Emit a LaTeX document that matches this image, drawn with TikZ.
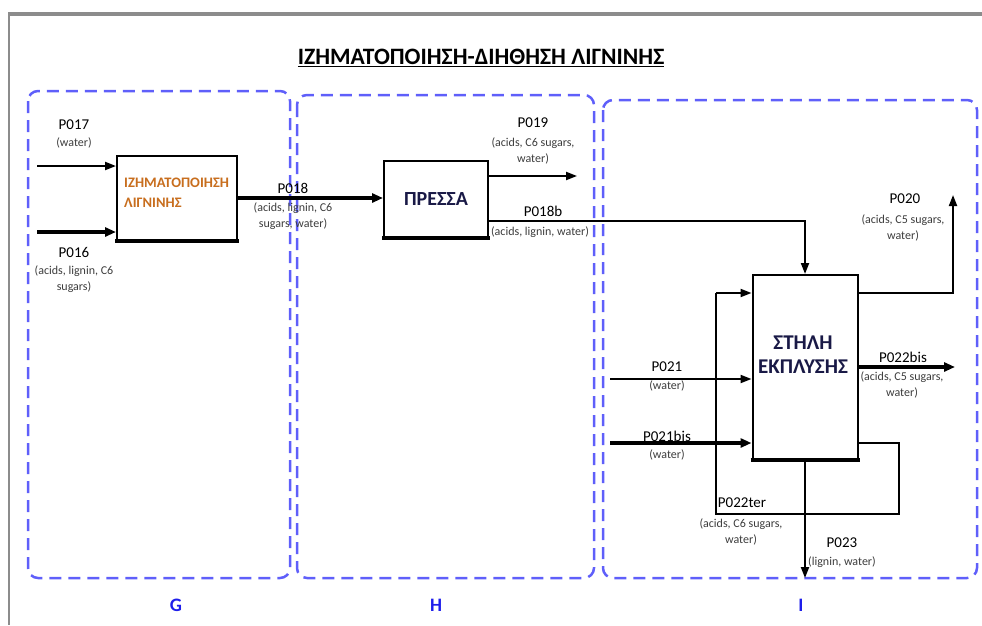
\documentclass[tikz,border=0pt]{standalone}
\usepackage{fontspec}
\setmainfont{Carlito}
\usetikzlibrary{arrows.meta,calc}
\definecolor{zoneblue}{RGB}{95,95,250}
\definecolor{lblblue}{RGB}{30,30,235}
\definecolor{boxorange}{RGB}{200,110,30}
\definecolor{boxnavy}{RGB}{25,25,70}
\definecolor{sublbl}{RGB}{60,60,60}
\definecolor{framegray}{RGB}{140,140,140}
\begin{document}
\begin{tikzpicture}[x=1pt,y=-1pt,
  zone/.style={draw=zoneblue,line width=2.5pt,rounded corners=10pt,dash pattern=on 12pt off 7pt},
  zonelbl/.style={text=lblblue,font=\fontsize{19}{19}\selectfont\bfseries},
  procbox/.style={draw,line width=2pt,fill=white,inner sep=0pt},
  flow/.style={line width=2pt,-{Triangle[length=11pt,width=8pt]}},
  thickflow/.style={line width=3.8pt,-{Triangle[length=11pt,width=9pt]}},
  pipe/.style={line width=2pt},
  pname/.style={font=\fontsize{15}{15}\selectfont,inner sep=0pt},
  psub/.style={font=\fontsize{12}{16}\selectfont,text=sublbl,inner sep=0pt}
]
\useasboundingbox (0,0) rectangle (982,625);
% frame
\draw[framegray,line width=4pt] (8,14) -- (982,14);
\draw[framegray,line width=1.5pt] (9,14) -- (9,625);
% title
\node[font=\fontsize{23.5}{24}\selectfont\bfseries,inner sep=0pt] (title) at (481,58) {\underline{ΙΖΗΜΑΤΟΠΟΙΗΣΗ-ΔΙΗΘΗΣΗ ΛΙΓΝΙΝΗΣ}};
% zones
\draw[zone] (28,91) rectangle (290,578);
\draw[zone] (297,95) rectangle (594,578);
\draw[zone] (603,100) rectangle (977,578);
\node[zonelbl] (lG) at (176,605) {G};
\node[zonelbl] (lH) at (436,605) {H};
\node[zonelbl] (lI) at (801,605) {I};
% boxes
\node[procbox,minimum width=120pt,minimum height=84pt] (b1) at (177,198) {};
\node[text=boxorange,font=\fontsize{14.5}{20}\selectfont\bfseries,align=left,anchor=west,inner sep=0pt] (b1t) at (124,193) {ΙΖΗΜΑΤΟΠΟΙΗΣΗ\\ΛΙΓΝΙΝΗΣ};
\draw[line width=3.5pt] ([xshift=-1pt]b1.south west) -- ([xshift=1pt]b1.south east);
\node[procbox,minimum width=104pt,minimum height=76pt,text=boxnavy,font=\fontsize{20}{20}\selectfont\bfseries] (press) at (436,199) {ΠΡΕΣΣΑ};
\draw[line width=3.5pt] ([xshift=-1pt]press.south west) -- ([xshift=1pt]press.south east);
\node[procbox,minimum width=105pt,minimum height=184pt] (col) at (805,367) {};
\node[text=boxnavy,font=\fontsize{21}{24}\selectfont\bfseries,align=center,inner sep=0pt] (colt) at (803,355) {ΣΤΗΛΗ\\ΕΚΠΛΥΣΗΣ};
\draw[line width=3.5pt] ([xshift=-1pt]col.south west) -- ([xshift=1pt]col.south east);
% coordinates
\coordinate (s17) at (37,166);
\coordinate (s16) at (37,232);
\coordinate (e19) at (577,176);
\coordinate (e20) at (953,195);
\coordinate (e22) at (955,367);
\coordinate (s21) at (610,379);
\coordinate (s21b) at (610,443);
\coordinate (e23) at (805,578);
\coordinate (r1) at (899,443);
\coordinate (r2) at (899,514);
\coordinate (r3) at (716,514);
\coordinate (r4) at (716,293);
% flows
\draw[flow] (s17) -- (s17 -| b1.west);
\draw[thickflow] (s16) -- (s16 -| b1.west);
\draw[thickflow] (b1.east) -- (b1.east -| press.west);
\draw[flow] (press.east |- e19) -- (e19);
\draw[flow] ($(press.east)+(0,22)$) -| (col.north);
\draw[flow] (col.east |- r4) -| (e20);
\draw[thickflow] (col.east |- e22) -- (e22);
\draw[flow] (s21) -- (s21 -| col.west);
\draw[thickflow] (s21b) -- (s21b -| col.west);
\draw[pipe] (col.east |- r1) -- (r1) -- (r2) -- (r3) -- (r4);
\draw[flow] (r4) -- (r4 -| col.west);
\draw[flow] (col.south) -- (e23);
% labels
\node[pname] (n17) at (74,125) {P017};
\node[psub] (n17s) at (74,143) {(water)};
\node[pname] (n16) at (74,252) {P016};
\node[psub,align=center] (n16s) at (74,279) {(acids, lignin, C6\\sugars)};
\node[pname] (n18) at (293,188) {P018};
\node[psub,align=center] (n18s) at (293,216) {(acids, lignin, C6\\sugars, water)};
\node[pname] (n19) at (533,123) {P019};
\node[psub,align=center] (n19s) at (533,151) {(acids, C6 sugars,\\water)};
\node[pname] (n18b) at (543,211) {P018b};
\node[psub] (n18bs) at (540,232) {(acids, lignin, water)};
\node[pname] (n20) at (905,199) {P020};
\node[psub,align=center] (n20s) at (903,228) {(acids, C5 sugars,\\water)};
\node[pname] (n22b) at (903,357) {P022bis};
\node[psub,align=center] (n22bs) at (902,385) {(acids, C5 sugars,\\water)};
\node[pname] (n21) at (667,367) {P021};
\node[psub] (n21s) at (667,386) {(water)};
\node[pname] (n21b) at (667,436) {P021bis};
\node[psub] (n21bs) at (667,455) {(water)};
\node[pname] (n22t) at (742,503) {P022ter};
\node[psub,align=center] (n22ts) at (741,532) {(acids, C6 sugars,\\water)};
\node[pname] (n23) at (842,543) {P023};
\node[psub] (n23s) at (842,562) {(lignin, water)};
\end{tikzpicture}
\end{document}
